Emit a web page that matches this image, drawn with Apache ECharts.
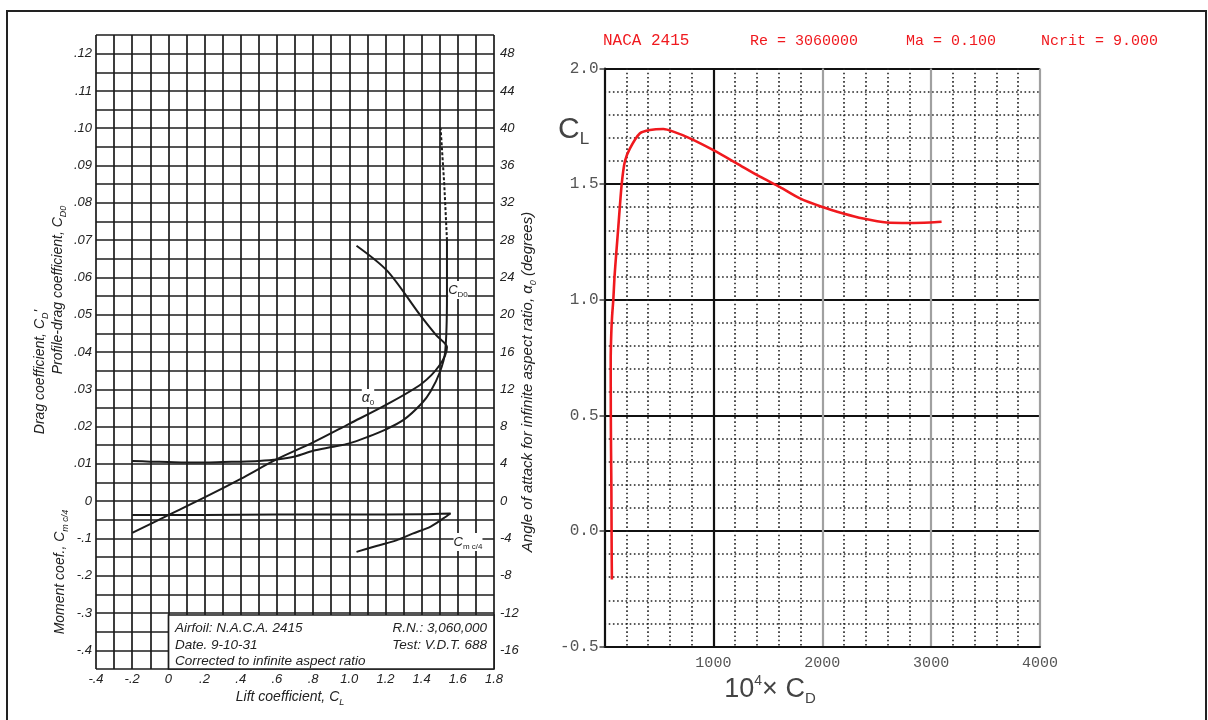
<!DOCTYPE html>
<html><head><meta charset="utf-8">
<script src="https://cdn.jsdelivr.net/npm/echarts@6/dist/echarts.min.js"></script>
<style>html,body{margin:0;padding:0;background:#fff}#c{width:1208px;height:720px}</style>
</head><body><div id="c"></div>
<script>
// ---- Left chart (NACA wind-tunnel, 1931) ----
const xTicksLeft = [-0.4, -0.2, 0, 0.2, 0.4, 0.6, 0.8, 1.0, 1.2, 1.4, 1.6, 1.8];
// Profile-drag coefficient vs lift coefficient
const clDrag = [-0.2, -0.1, 0.0, 0.1, 0.2, 0.3, 0.4, 0.5, 0.6, 0.7, 0.8, 0.9, 1.0, 1.1, 1.2, 1.3, 1.4, 1.45, 1.5, 1.53, 1.54, 1.54];
const cdDrag = [0.0108, 0.0106, 0.0105, 0.0104, 0.0104, 0.0105, 0.0106, 0.0108, 0.0112, 0.0120, 0.0135, 0.0145, 0.0155, 0.0172, 0.0192, 0.0218, 0.0262, 0.0295, 0.0345, 0.0400, 0.0550, 0.0700];
const clDragTail = [1.54, 1.525, 1.505];
const cdDragTail = [0.0700, 0.0850, 0.1000];
// Angle of attack (deg) vs lift coefficient
const clAlpha = [-0.2, 0.0, 0.2, 0.4, 0.6, 0.8, 1.0, 1.2, 1.4, 1.5, 1.54, 1.48, 1.39, 1.21, 1.04];
const alphaDeg = [-3.4, -1.5, 0.4, 2.4, 4.5, 6.3, 8.3, 10.3, 12.6, 14.6, 16.5, 17.8, 20.0, 24.7, 27.4];
// Moment coefficient c/4 vs lift coefficient
const clMoment = [-0.2, 0.2, 0.6, 1.0, 1.4, 1.56, 1.52, 1.45, 1.35, 1.26, 1.15, 1.04];
const cmMoment = [-0.037, -0.037, -0.036, -0.036, -0.035, -0.033, -0.046, -0.068, -0.087, -0.105, -0.120, -0.136];

// ---- Right chart (XFOIL polar) ----
const cdX1e4 = [68, 66, 65, 63, 60, 58, 57, 62, 70, 81, 92, 108, 127, 158, 188, 234, 326, 418, 540, 632, 785, 1000, 1214, 1428, 1612, 1795, 1994, 2193, 2377, 2591, 2805, 2989, 3096];
const clXfoil = [-0.21, -0.1, 0.0, 0.2, 0.35, 0.5, 0.74, 0.85, 0.93, 1.0, 1.1, 1.2, 1.315, 1.5, 1.6, 1.655, 1.72, 1.734, 1.738, 1.727, 1.698, 1.647, 1.59, 1.532, 1.487, 1.438, 1.402, 1.373, 1.351, 1.334, 1.332, 1.334, 1.337];
const xTicksRight = [1000, 2000, 3000, 4000];
const yTicksRight = [-0.5, 0.0, 0.5, 1.0, 1.5, 2.0];

const zip = (a, b) => a.map((v, i) => [v, b[i]]);
const ink = '#1c1c1c';
const sans = '"Liberation Sans", Arial, sans-serif';
const mono = '"Liberation Mono", "DejaVu Sans Mono", monospace';
const red = '#f0191e';
const gray = '#555';

const fmtCL = v => {
  const r = Math.round(v * 10) / 10;
  if (r === 0) return '0';
  if (Math.abs(r) < 1) return (r < 0 ? '-' : '') + String(Math.abs(r)).replace(/^0/, '');
  return r.toFixed(1);
};
const fmtDrag = v => {
  const k = Math.round(v * 1000);
  if (k < 0 || k % 10) return '';
  if (k === 0) return '0';
  const n = k / 10;
  return '.' + (n < 10 ? '0' + n : n);
};
const fmtMoment = v => {
  const k = Math.round(v * 100);
  if (k >= 0 || k % 10) return '';
  return '-.' + (-k / 10);
};
const fmtAlpha = v => {
  const k = Math.round(v);
  if (k % 4) return '';
  return String(k);
};

const leftLabel = {fontStyle: 'italic', fontFamily: sans, fontSize: 13, color: '#222'};

const chart = echarts.init(document.getElementById('c'));
const option = {
  backgroundColor: '#fff',
  animation: false,
  grid: [
    {left: 96, top: 35, width: 398, height: 634},
    {left: 604.5, top: 68.5, width: 435.5, height: 578}
  ],
  xAxis: [
    {gridIndex: 0, type: 'value', min: -0.4, max: 1.8, interval: 0.2,
     axisLine: {show: false}, axisTick: {show: false},
     splitLine: {show: true, lineStyle: {color: ink, width: 1.7}},
     minorTick: {show: false, splitNumber: 2},
     minorSplitLine: {show: true, lineStyle: {color: ink, width: 1.7}},
     axisLabel: Object.assign({formatter: fmtCL, margin: 4}, leftLabel)},
    {gridIndex: 1, type: 'value', min: 0, max: 4000, interval: 1000,
     axisLine: {show: true, onZero: false, lineStyle: {color: '#111', width: 2}},
     axisTick: {show: false},
     splitLine: {show: true, lineStyle: {color: ['#111', '#111', '#a0a0a0', '#a0a0a0', '#a0a0a0'], width: 2.2}},
     minorTick: {show: false, splitNumber: 5},
     minorSplitLine: {show: true, lineStyle: {color: '#222', width: 1.6, type: [1.6, 2.6]}},
     axisLabel: {formatter: v => (xTicksRight.includes(v) ? String(v) : ''), fontFamily: mono, fontSize: 15, color: gray, margin: 9}}
  ],
  yAxis: [
    {gridIndex: 0, type: 'value', min: -0.045, max: 0.125, interval: 0.005, position: 'left',
     axisLine: {show: false}, axisTick: {show: false},
     splitLine: {show: true, lineStyle: {color: ink, width: 1.7}},
     axisLabel: Object.assign({formatter: fmtDrag, margin: 4}, leftLabel)},
    {gridIndex: 0, type: 'value', min: -0.45, max: 1.25, interval: 0.05, position: 'left',
     axisLine: {show: false}, axisTick: {show: false}, splitLine: {show: false},
     axisLabel: Object.assign({formatter: fmtMoment, margin: 4}, leftLabel)},
    {gridIndex: 0, type: 'value', min: -18, max: 50, interval: 2, position: 'right',
     axisLine: {show: false}, axisTick: {show: false}, splitLine: {show: false},
     axisLabel: Object.assign({formatter: fmtAlpha, margin: 6}, leftLabel)},
    {gridIndex: 1, type: 'value', min: -0.5, max: 2.0, interval: 0.5,
     axisLine: {show: true, onZero: false, lineStyle: {color: '#111', width: 2}},
     axisTick: {show: true, length: 5, lineStyle: {color: '#444', width: 1.5}},
     splitLine: {show: true, lineStyle: {color: '#111', width: 1.8}},
     minorTick: {show: false, splitNumber: 5},
     minorSplitLine: {show: true, lineStyle: {color: '#222', width: 1.6, type: [1.6, 2.6]}},
     axisLabel: {formatter: v => (yTicksRight.some(t => Math.abs(t - v) < 1e-9) ? v.toFixed(1) : ''), fontFamily: mono, fontSize: 16, color: gray, margin: 6}}
  ],
  series: [
    {type: 'line', xAxisIndex: 0, yAxisIndex: 0, data: zip(clDrag, cdDrag), smooth: 0.3, symbol: 'none', lineStyle: {color: ink, width: 2}, z: 5},
    {type: 'line', xAxisIndex: 0, yAxisIndex: 0, data: zip(clDragTail, cdDragTail), smooth: false, symbol: 'none', lineStyle: {color: ink, width: 2, type: [3, 2]}, z: 5},
    {type: 'line', xAxisIndex: 0, yAxisIndex: 2, data: zip(clAlpha, alphaDeg), smooth: 0.3, symbol: 'none', lineStyle: {color: ink, width: 2}, z: 5},
    {type: 'line', xAxisIndex: 0, yAxisIndex: 1, data: zip(clMoment, cmMoment), smooth: 0.3, symbol: 'none', lineStyle: {color: ink, width: 2}, z: 5},
    {type: 'line', xAxisIndex: 1, yAxisIndex: 3, data: zip(cdX1e4, clXfoil), smooth: 0.25, symbol: 'none', lineStyle: {color: red, width: 2.6}, z: 5}
  ],
  graphic: [
    {type: 'polyline', z: 50, shape: {points: [[7, 720], [7, 11], [1206, 11], [1206, 720]]}, style: {stroke: '#222', lineWidth: 2, fill: null}},
    // info box
    {type: 'rect', z: 60, shape: {x: 168.5, y: 615, width: 325.5, height: 54}, style: {fill: '#fff', stroke: ink, lineWidth: 1.7}},
    {type: 'text', z: 61, x: 175, y: 628, style: {text: 'Airfoil: N.A.C.A. 2415', font: 'italic 13.5px ' + sans, fill: '#222', verticalAlign: 'middle'}},
    {type: 'text', z: 61, x: 487, y: 628, style: {text: 'R.N.: 3,060,000', font: 'italic 13.5px ' + sans, fill: '#222', align: 'right', verticalAlign: 'middle'}},
    {type: 'text', z: 61, x: 175, y: 645, style: {text: 'Date. 9-10-31', font: 'italic 13.5px ' + sans, fill: '#222', verticalAlign: 'middle'}},
    {type: 'text', z: 61, x: 487, y: 645, style: {text: 'Test: V.D.T. 688', font: 'italic 13.5px ' + sans, fill: '#222', align: 'right', verticalAlign: 'middle'}},
    {type: 'text', z: 61, x: 175, y: 661, style: {text: 'Corrected to infinite aspect ratio', font: 'italic 13.5px ' + sans, fill: '#222', verticalAlign: 'middle'}},
    // left axis titles
    {type: 'text', z: 61, x: 40, y: 372, rotation: Math.PI / 2, style: {text: "Drag coefficient, C{s|D}'", font: 'italic 14px ' + sans, fill: '#222', align: 'center', verticalAlign: 'middle', lineHeight: 20, rich: {s: {fontSize: 9, fontStyle: 'italic', fontFamily: sans, fill: '#222', verticalAlign: 'bottom', lineHeight: 20}}}},
    {type: 'text', z: 61, x: 58, y: 290, rotation: Math.PI / 2, style: {text: 'Profile-drag coefficient, C{s|D0}', font: 'italic 14px ' + sans, fill: '#222', align: 'center', verticalAlign: 'middle', lineHeight: 20, rich: {s: {fontSize: 9, fontStyle: 'italic', fontFamily: sans, fill: '#222', verticalAlign: 'bottom', lineHeight: 20}}}},
    {type: 'text', z: 61, x: 60, y: 572, rotation: Math.PI / 2, style: {text: 'Moment coef., C{s|m c/4}', font: 'italic 14px ' + sans, fill: '#222', align: 'center', verticalAlign: 'middle', lineHeight: 20, rich: {s: {fontSize: 9, fontStyle: 'italic', fontFamily: sans, fill: '#222', verticalAlign: 'bottom', lineHeight: 20}}}},
    {type: 'text', z: 61, x: 528, y: 382, rotation: Math.PI / 2, style: {text: 'Angle of attack for infinite aspect ratio, α{s|0} (degrees)', font: 'italic 15px ' + sans, fill: '#222', align: 'center', verticalAlign: 'middle', lineHeight: 20, rich: {s: {fontSize: 9, fontStyle: 'italic', fontFamily: sans, fill: '#222', verticalAlign: 'bottom', lineHeight: 20}}}},
    {type: 'text', z: 61, x: 290, y: 697, style: {text: 'Lift coefficient, C{s|L}', font: 'italic 14px ' + sans, fill: '#222', align: 'center', verticalAlign: 'middle', lineHeight: 20, rich: {s: {fontSize: 9, fontStyle: 'italic', fontFamily: sans, fill: '#222', verticalAlign: 'bottom', lineHeight: 20}}}},
    // curve labels
    {type: 'text', z: 61, x: 368, y: 398, style: {text: 'α{s|0}', font: 'italic 14px ' + sans, fill: '#222', align: 'center', verticalAlign: 'middle', lineHeight: 18, backgroundColor: '#fff', rich: {s: {fontSize: 8, fontFamily: sans, fill: '#222', verticalAlign: 'bottom', lineHeight: 18}}}},
    {type: 'text', z: 61, x: 458, y: 290, style: {text: 'C{s|D0}', font: 'italic 13px ' + sans, fill: '#222', align: 'center', verticalAlign: 'middle', lineHeight: 18, backgroundColor: '#fff', rich: {s: {fontSize: 8, fontFamily: sans, fill: '#222', verticalAlign: 'bottom', lineHeight: 18}}}},
    {type: 'text', z: 61, x: 468, y: 542, style: {text: 'C{s|m c/4}', font: 'italic 13px ' + sans, fill: '#222', align: 'center', verticalAlign: 'middle', lineHeight: 18, backgroundColor: '#fff', rich: {s: {fontSize: 8, fontFamily: sans, fill: '#222', verticalAlign: 'bottom', lineHeight: 18}}}},
    // right chart title
    {type: 'text', z: 61, x: 603, y: 41, style: {text: 'NACA 2415', font: '16px ' + mono, fill: red, verticalAlign: 'middle'}},
    {type: 'text', z: 61, x: 750, y: 41, style: {text: 'Re = 3060000', font: '15px ' + mono, fill: red, verticalAlign: 'middle'}},
    {type: 'text', z: 61, x: 906, y: 41, style: {text: 'Ma = 0.100', font: '15px ' + mono, fill: red, verticalAlign: 'middle'}},
    {type: 'text', z: 61, x: 1041, y: 41, style: {text: 'Ncrit = 9.000', font: '15px ' + mono, fill: red, verticalAlign: 'middle'}},
    // right chart axis titles
    {type: 'text', z: 61, x: 558, y: 130, style: {text: 'C{s|L}', font: '30px ' + sans, fill: '#444', verticalAlign: 'middle', lineHeight: 36, rich: {s: {fontSize: 17, fontFamily: sans, fill: '#444', verticalAlign: 'bottom', lineHeight: 36}}}},
    {type: 'text', z: 61, x: 770, y: 690, style: {text: '10{p|4}× C{s|D}', font: '27px ' + sans, fill: '#444', align: 'center', verticalAlign: 'middle', lineHeight: 32, rich: {p: {fontSize: 14, fontFamily: sans, fill: '#444', verticalAlign: 'top', lineHeight: 32}, s: {fontSize: 15, fontFamily: sans, fill: '#444', verticalAlign: 'bottom', lineHeight: 32}}}}
  ]
};
chart.setOption(option);
</script></body></html>
